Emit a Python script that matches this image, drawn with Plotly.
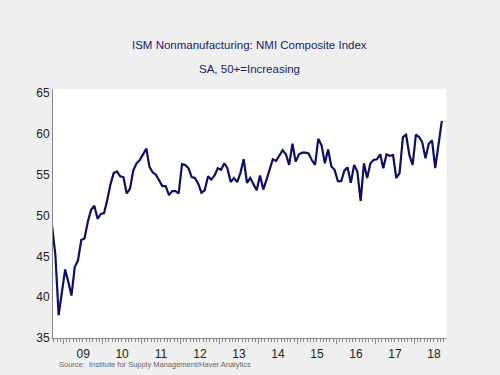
import pandas as pd
import plotly.graph_objects as go

# Monthly observations, Sep 2008 .. Sep 2018 (plotted mid-month)
months = pd.period_range("2008-09", "2018-09", freq="M")
dates = [p.start_time + pd.Timedelta(days=14) for p in months]

nmi = [
    48.7, 45.2, 37.8, 40.5,                                                  # 2008 Sep-Dec
    43.4, 41.8, 40.2, 43.7, 44.5, 47.0, 47.2, 49.2, 50.7, 51.2, 49.6, 50.2,  # 2009
    50.3, 52.0, 53.8, 55.2, 55.4, 54.8, 54.7, 52.7, 53.3, 55.5, 56.4, 56.8,  # 2010
    57.6, 58.2, 56.0, 55.3, 55.0, 54.3, 53.6, 53.6, 52.5, 53.0, 53.0, 52.7,  # 2011
    56.3, 56.2, 55.8, 54.7, 54.6, 53.9, 52.8, 53.1, 54.8, 54.4, 54.9, 55.8,  # 2012
    55.6, 56.4, 55.8, 54.1, 54.6, 54.1, 55.2, 56.9, 54.0, 54.6, 53.9, 53.1,  # 2013
    54.9, 53.2, 54.3, 55.6, 56.9, 56.7, 57.3, 58.0, 57.5, 56.2, 58.8, 56.6,  # 2014
    57.5, 57.7, 57.7, 57.6, 56.8, 56.2, 59.4, 58.6, 56.4, 58.1, 56.0, 55.6,  # 2015
    54.2, 54.2, 55.5, 55.9, 54.0, 56.2, 55.4, 51.8, 56.4, 54.6, 56.4, 56.8,  # 2016
    56.9, 57.5, 55.8, 57.5, 57.3, 57.4, 54.6, 55.2, 59.6, 59.9, 57.4, 56.2,  # 2017
    59.9, 59.6, 59.0, 57.0, 58.8, 59.2, 55.8, 58.5, 61.6,                    # 2018 Jan-Sep
]

y_ticks = [35, 40, 45, 50, 55, 60, 65]

title_text = "ISM Nonmanufacturing: NMI Composite Index"
subtitle_text = "SA, 50+=Increasing"
source_text = "Source:  Institute for Supply Management/Haver Analytics"

FONT = "Liberation Sans, Arial, sans-serif"
NAVY = "#0d0d6b"
BG = "#efefef"

fig = go.Figure()
fig.add_trace(go.Scatter(
    x=dates, y=nmi, mode="lines",
    line=dict(color=NAVY, width=2.2),
    hoverinfo="skip", cliponaxis=True,
))

fig.update_layout(
    width=500, height=375,
    margin=dict(l=53, r=54, t=89, b=37),
    paper_bgcolor=BG,
    plot_bgcolor="#ffffff",
    showlegend=False,
    font=dict(family=FONT, size=12, color="#222222"),
)

fig.update_xaxes(
    type="date",
    range=["2008-09-23", "2018-10-24"],
    tick0="2009-01-01", dtick="M12",
    ticklabelmode="period", tickformat="%y",
    ticks="outside", ticklen=5, tickcolor="#888888", tickwidth=1,
    minor=dict(dtick="M1", tick0="2009-01-01", ticks="outside", ticklen=3,
               tickcolor="#888888", tickwidth=1, showgrid=False),
    showline=True, linecolor="#888888", linewidth=1,
    showgrid=False, zeroline=False,
    tickfont=dict(family=FONT, size=12, color="#222222"),
)

fig.update_yaxes(
    range=[35, 65.5],
    tickvals=y_ticks, ticktext=[str(v) for v in y_ticks],
    ticks="", showline=True, linecolor="#888888", linewidth=1,
    showgrid=False, zeroline=False,
    tickfont=dict(family=FONT, size=12, color="#222222"),
)

fig.add_annotation(text=title_text, xref="paper", yref="paper",
                   x=0.5, y=1.177, xanchor="center", yanchor="middle",
                   showarrow=False, font=dict(family=FONT, size=11.5, color="#1a1a6e"))
fig.add_annotation(text=subtitle_text, xref="paper", yref="paper",
                   x=0.5, y=1.080, xanchor="center", yanchor="middle",
                   showarrow=False, font=dict(family=FONT, size=11.5, color="#1a1a6e"))
fig.add_annotation(text=source_text, xref="paper", yref="paper",
                   x=0.01, y=-0.106, xanchor="left", yanchor="middle",
                   showarrow=False, font=dict(family=FONT, size=7.5, color="#666666"))

fig.write_html(
    "out.html",
    config={"displayModeBar": False, "staticPlot": True},
    post_script=(
        "document.body.style.margin='0';"
        "document.body.style.padding='0';"
        "document.body.style.background='" + BG + "';"
        "document.documentElement.style.background='" + BG + "';"
    ),
)
